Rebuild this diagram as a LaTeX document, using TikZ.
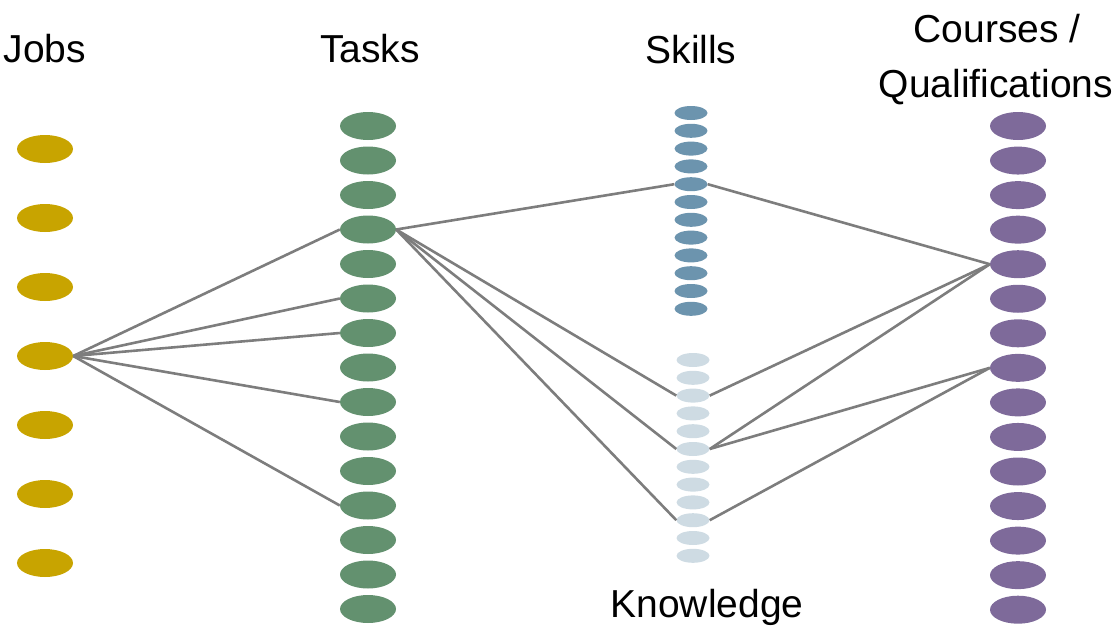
\documentclass[tikz,border=0pt]{standalone}
\usepackage{fontspec}
\setmainfont{Liberation Sans}
\usepackage{tikz}
\usetikzlibrary{shapes.geometric}
\definecolor{jobgold}{RGB}{200,164,0}
\definecolor{taskgreen}{RGB}{99,145,111}
\definecolor{skillblue}{RGB}{108,148,174}
\definecolor{knowgrey}{RGB}{206,219,227}
\definecolor{coursepurple}{RGB}{126,106,154}
\definecolor{linkgrey}{RGB}{125,125,125}
\tikzstyle{bigdot} = [ellipse, draw=none, inner sep=0pt, minimum width=56pt, minimum height=28pt]
\tikzstyle{smalldot} = [ellipse, draw=none, inner sep=0pt, minimum width=33pt, minimum height=14pt]
\tikzstyle{head} = [anchor=base, inner sep=0pt, font=\fontsize{39}{47}\selectfont]
\tikzstyle{link} = [line width=2.6pt, color=linkgrey]

\begin{document}
\begin{tikzpicture}[x=1pt, y=-1pt]
\useasboundingbox (0,0) rectangle (1118,629);
% Headings
\node[head] (hjobs) at (45,62) {Jobs};
\node[head] (htasks) at (370,62) {Tasks};
\node[head] (hskills) at (691,63) {Skills};
\node[head] (hcourses) at (997,42) {Courses /};
\node[head] (hqual) at (996,97) {Qualifications};
\node[head] (hknow) at (707,617) {Knowledge};

% Columns
\foreach \i in {1,...,7}
  \node[bigdot, fill=jobgold] (j\i) at (45,{149+69*(\i-1)}) {};
\foreach \i in {1,...,15}
  \node[bigdot, fill=taskgreen] (t\i) at (368,{126+34.5*(\i-1)}) {};
\foreach \i in {1,...,12}
  \node[smalldot, fill=skillblue] (s\i) at (691,{113+17.8*(\i-1)}) {};
\foreach \i in {1,...,12}
  \node[smalldot, fill=knowgrey] (k\i) at (693,{360+17.8*(\i-1)}) {};
\foreach \i in {1,...,15}
  \node[bigdot, fill=coursepurple] (c\i) at (1018,{126+34.55*(\i-1)}) {};

% Job to tasks
\foreach \t in {4,6,7,9,12}
  \draw[link] (j4.east) -- (t\t.west);

% Task to skills and knowledge
\draw[link] (t4.east) -- (s5.west);
\foreach \k in {3,6,10}
  \draw[link] (t4.east) -- (k\k.west);

% Skills and knowledge to courses
\draw[link] (s5.east) -- (c5.west);
\draw[link] (k3.east) -- (c5.west);
\draw[link] (k6.east) -- (c5.west);
\draw[link] (k6.east) -- (c8.west);
\draw[link] (k10.east) -- (c8.west);
\end{tikzpicture}
\end{document}
